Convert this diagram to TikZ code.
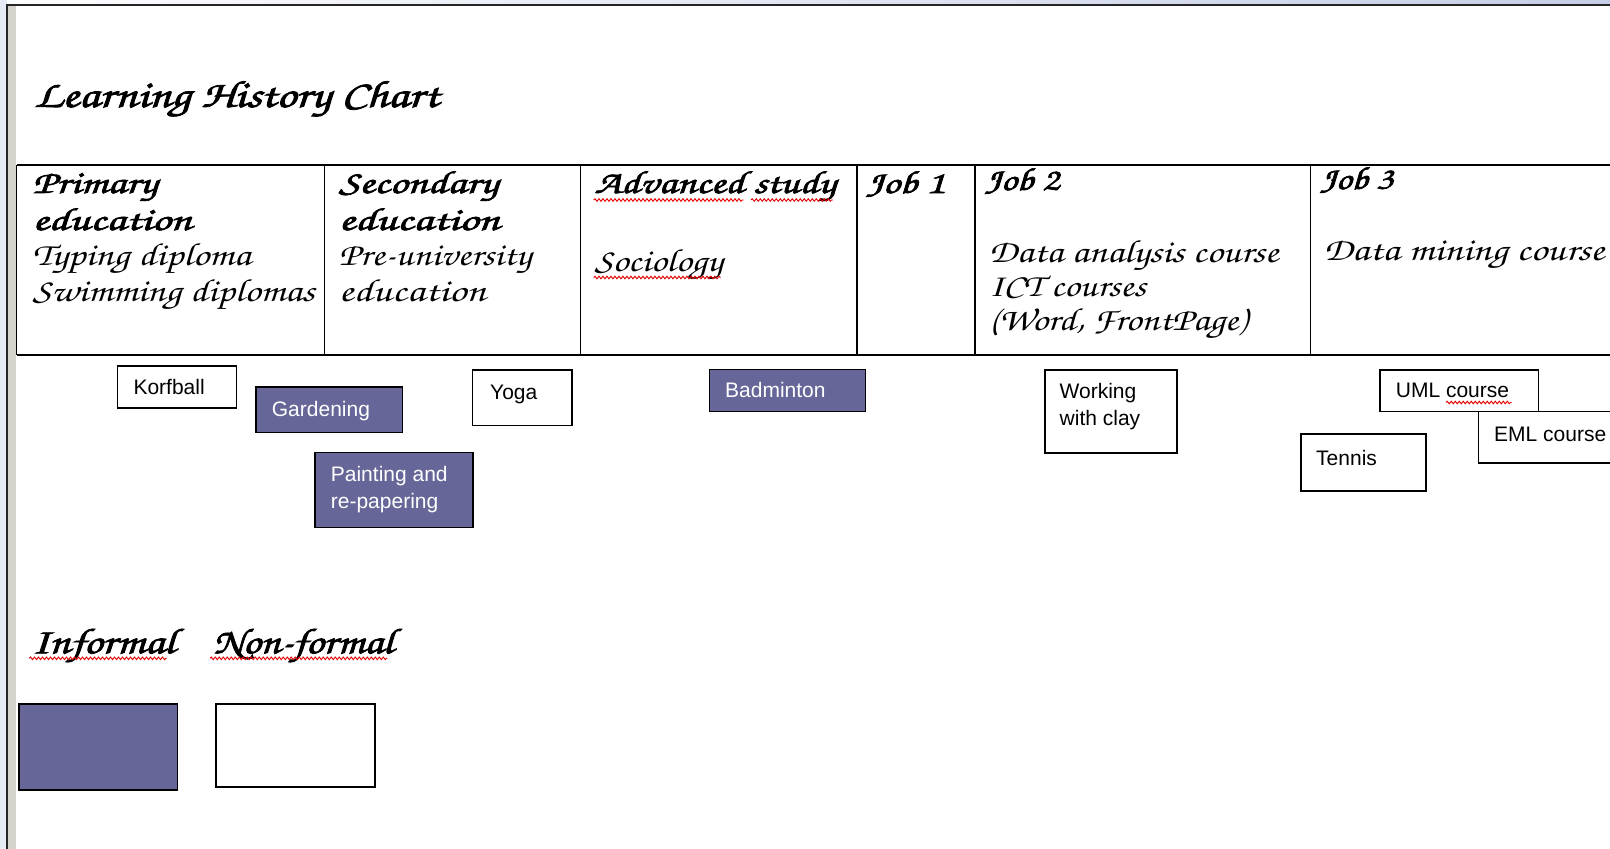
\documentclass[tikz,border=0pt]{standalone}
\usepackage{fontspec}
\usepackage{graphicx}
\setmainfont{Liberation Sans}
\newfontfamily\curfont{texgyrechorus-mediumitalic.otf}
\newfontfamily\curbfont{texgyrechorus-mediumitalic.otf}[FakeBold=2]
\usetikzlibrary{decorations.pathmorphing}
\newcommand\fitw[2]{\resizebox{#1pt}{\height}{#2}}
\definecolor{infc}{HTML}{666699}
\definecolor{edgeblue}{HTML}{E6EBF6}
\definecolor{stripgrey}{HTML}{D5D2CC}
\tikzset{
  ttl/.style={anchor=base west, inner sep=0, font={\curbfont\fontsize{38}{40}\selectfont}},
  hd/.style={anchor=base west, inner sep=0, font={\curbfont\fontsize{32}{36}\selectfont}},
  bd/.style={anchor=base west, inner sep=0, font={\curfont\fontsize{32}{36}\selectfont}},
  lg/.style={anchor=base west, inner sep=0, font={\curbfont\fontsize{36}{38}\selectfont}},
  wbox/.style={draw=black, line width=1.5, fill=white, inner sep=0, anchor=north west},
  pbox/.style={wbox, fill=infc},
  lab/.style={anchor=base west, inner sep=0, font={\fontsize{21}{27}\selectfont}},
  wlab/.style={lab, text=white},
  tline/.style={line width=1.6, black},
  squig/.style={red!90!black, line width=0.9, decorate, decoration={snake, amplitude=1.3pt, segment length=4pt}},
}
\begin{document}
\begin{tikzpicture}[x=1pt, y=-1pt]
\useasboundingbox (0,0) rectangle (1610,849);
\clip (0,0) rectangle (1610,849);
\fill[white] (0,0) rectangle (1610,849);
% window frame
\fill[edgeblue] (0,0) rectangle (7,849);
\shade[left color=white!90!edgeblue, right color={rgb,255:red,197;green,206;blue,230}] (7,0) rectangle (1610,4);
\fill[stripgrey] (8,5.5) rectangle (15.5,849);
\draw[line width=2, black!85] (7,849) -- (7,4.5) -- (1610,4.5);

% title
\node[ttl] (title) at (34,107) {\fitw{405}{Learning History Chart}};

% table
\draw[tline] (16.5,165) -- (1612,165);
\draw[tline] (16.5,355) -- (1612,355);
\foreach \xx in {16.5,324.5,580.3,857,975.2,1310.3}
  \draw[tline] (\xx,165) -- (\xx,355);

\node[hd] (prim1) at (32.5,193) {\fitw{124.5}{Primary}};
\node[hd] (prim2) at (32.5,230) {\fitw{159}{education}};
\node[bd] (prim3) at (32.5,265) {\fitw{218}{Typing diploma}};
\node[bd] (prim4) at (32.5,301.7) {\fitw{282}{Swimming diplomas}};

\node[hd] (sec1) at (338.7,193) {\fitw{159}{Secondary}};
\node[hd] (sec2) at (338.7,230) {\fitw{160.7}{education}};
\node[bd] (sec3) at (338.7,265) {\fitw{192.5}{Pre-university}};
\node[bd] (sec4) at (338.7,301.7) {\fitw{147}{education}};

\node[hd] (adv) at (594.4,193) {\fitw{241}{Advanced study}};
\node[bd] (soc) at (594.4,271.7) {\fitw{128}{Sociology}};

\node[hd] (job1) at (866,193) {\fitw{78.6}{Job 1}};

\node[hd] (job2) at (984.8,190) {\fitw{74.6}{Job 2}};
\node[bd] (da) at (988.6,262) {\fitw{289.7}{Data analysis course}};
\node[bd] (ict) at (988.6,296) {\fitw{157}{ICT courses}};
\node[bd] (word) at (988.6,330) {\fitw{258}{(Word, FrontPage)}};

\node[hd] (job3) at (1320,189) {\fitw{73.3}{Job 3}};
\node[bd] (dm) at (1323.3,260) {\fitw{280.7}{Data mining course}};

% spell-check underlines
\draw[squig] (593.7,200) -- (743.7,200);
\draw[squig] (751,200) -- (833,200);
\draw[squig] (593.7,277.5) -- (720.7,277.5);

% activity boxes
\node[wbox, minimum width=119, minimum height=42.3] (korf) at (116.7,365) {};
\node[lab] (korfT) at (133.3,394.3) {Korfball};

\node[pbox, minimum width=146.7, minimum height=45.7] (gard) at (255,386) {};
\node[wlab] (gardT) at (271.7,416.7) {Gardening};

\node[wbox, minimum width=99.3, minimum height=55.7] (yoga) at (471.7,369) {};
\node[lab] (yogaT) at (490,399.3) {Yoga};

\node[pbox, minimum width=158.3, minimum height=75] (paint) at (314,451.7) {};
\node[wlab] (paintT1) at (330.7,481) {Painting and};
\node[wlab] (paintT2) at (330.7,508) {re-papering};

\node[pbox, minimum width=156, minimum height=42] (badm) at (708.5,368.6) {};
\node[wlab] (badmT) at (725,397.5) {Badminton};

\node[wbox, minimum width=132, minimum height=83.3] (clay) at (1044,369) {};
\node[lab] (clayT1) at (1059.5,398.3) {Working};
\node[lab] (clayT2) at (1059.5,425) {with clay};

\node[wbox, minimum width=158.7, minimum height=41.7] (uml) at (1379,369) {};
\node[lab] (umlT) at (1395.7,397.7) {UML course};
\draw[squig] (1446,402.5) -- (1511.6,402.5);

\node[wbox, minimum width=160, minimum height=51.6] (eml) at (1477.8,410.7) {};
\node[lab] (emlT) at (1494,441.7) {EML course};

\node[wbox, minimum width=125.3, minimum height=57.3] (tennis) at (1300,433) {};
\node[lab] (tennisT) at (1316,465) {Tennis};

% legend
\node[lg] (inf) at (31.7,653.3) {\fitw{143.3}{Informal}};
\node[lg] (nonf) at (213.3,653.3) {\fitw{180}{Non-formal}};
\draw[squig] (29.3,658.3) -- (166.7,658.3);
\draw[squig] (210,658.3) -- (387.3,658.3);

\node[pbox, minimum width=158.4, minimum height=86] (infbox) at (18.3,703) {};
\node[wbox, minimum width=159, minimum height=83] (nonfbox) at (215,703) {};
\end{tikzpicture}
\end{document}
